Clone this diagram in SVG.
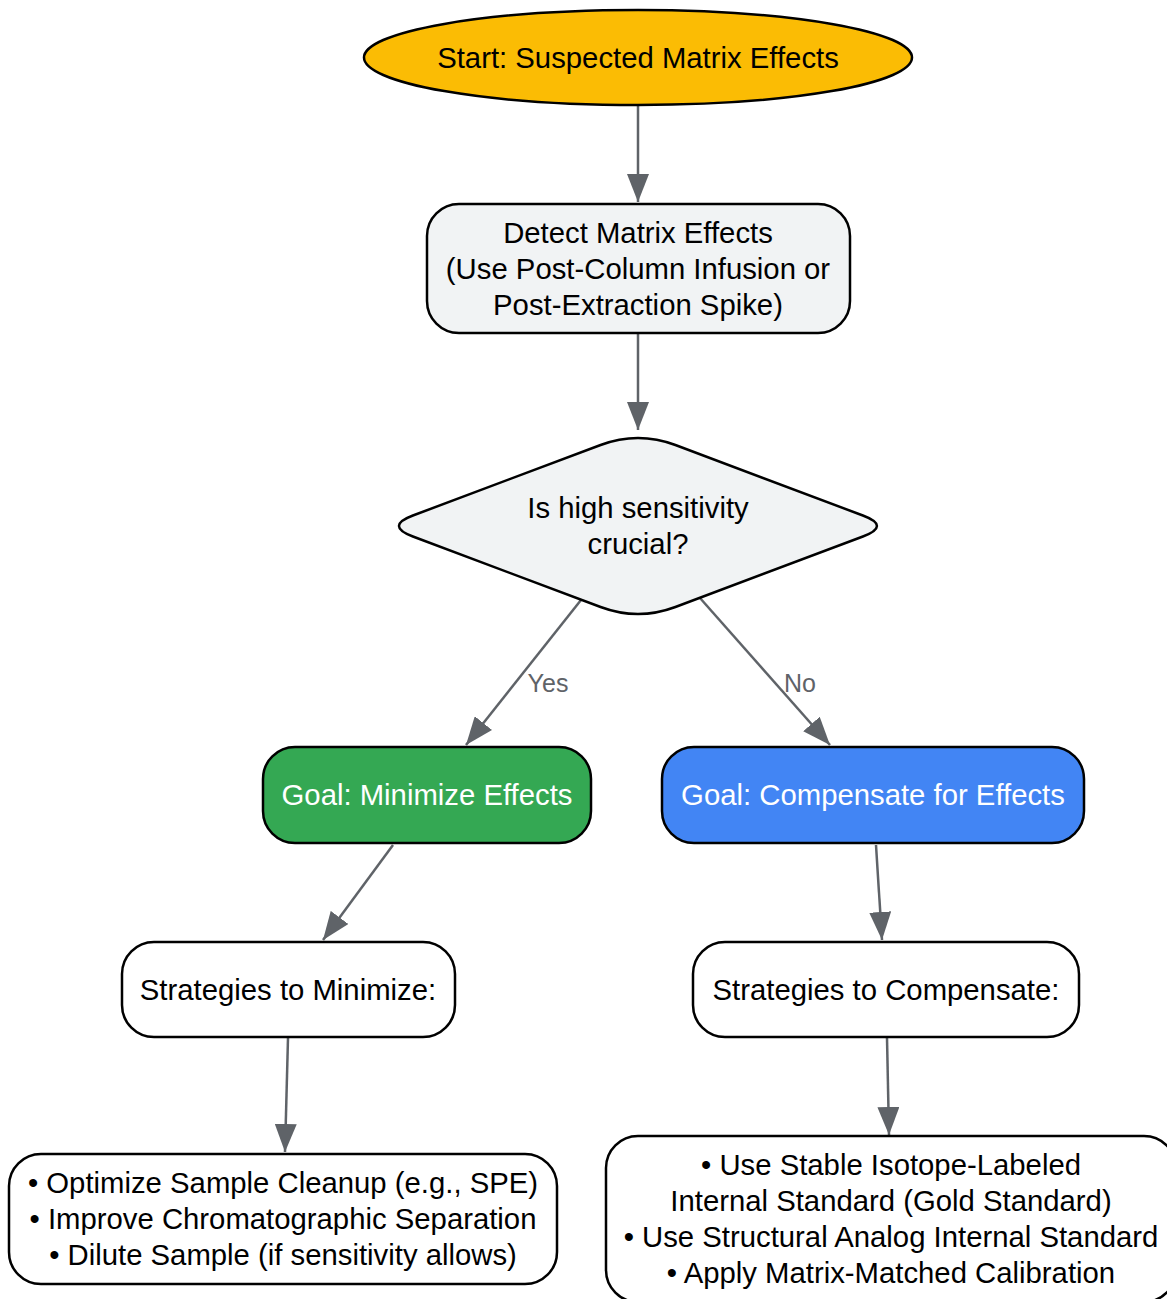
<svg xmlns="http://www.w3.org/2000/svg" width="1167" height="1299" viewBox="0 0 1167 1299">
<style>
text{font-family:"Liberation Sans",Arial,sans-serif;font-size:29.3px;fill:#000;text-anchor:middle}
.node{stroke:#000;stroke-width:2.5}
.w{fill:#ffffff}
.g{fill:#f1f3f4}
.lt{fill:#ffffff}
.edge{stroke:#5f6368;stroke-width:2.5;fill:none;marker-end:url(#ah)}
.lbl{fill:#5f6368;font-size:25px}
</style>
<defs>
<marker id="ah" markerUnits="userSpaceOnUse" markerWidth="28" markerHeight="22" refX="28" refY="11" orient="auto">
<path d="M0,0 L28,11 L0,22 Z" fill="#5f6368"/>
</marker>
</defs>
<rect width="1167" height="1299" fill="#ffffff"/>
<g id="connectors">
<line class="edge" x1="638" y1="105" x2="638" y2="202"/>
<line class="edge" x1="638" y1="334" x2="638" y2="430"/>
<line class="edge" x1="581" y1="600" x2="466" y2="745"/>
<line class="edge" x1="700" y1="598" x2="830" y2="745"/>
<line class="edge" x1="393" y1="845" x2="323" y2="940"/>
<line class="edge" x1="876" y1="845" x2="882" y2="940"/>
<line class="edge" x1="288" y1="1038" x2="285" y2="1152"/>
<line class="edge" x1="887" y1="1038" x2="889" y2="1135"/>
<text class="lbl" x="548" y="692">Yes</text>
<text class="lbl" x="800" y="692">No</text>
</g>
<g id="start">
<ellipse class="node" cx="638" cy="57.5" rx="274" ry="47.5" fill="#fbbc04"/>
<text x="638" y="68">Start: Suspected Matrix Effects</text>
</g>
<g id="detect">
<rect class="node g" x="427" y="204" width="423" height="129" rx="32"/>
<text x="638" y="243">Detect Matrix Effects</text>
<text x="638" y="279">(Use Post-Column Infusion or</text>
<text x="638" y="315">Post-Extraction Spike)</text>
</g>
<g id="decision">
<path class="node g" d="M600.6,445 Q638,431 675.4,445 L862.9,515.5 Q891,526 862.9,536.5 L675.4,607 Q638,621 600.6,607 L412.9,536.5 Q385,526 412.9,515.5 Z"/>
<text x="638" y="518">Is high sensitivity</text>
<text x="638" y="554">crucial?</text>
</g>
<g id="minimize">
<rect class="node" x="263" y="747" width="328" height="96" rx="32" fill="#34a853"/>
<text class="lt" x="427" y="805">Goal: Minimize Effects</text>
</g>
<g id="compensate">
<rect class="node" x="662" y="747" width="422" height="96" rx="32" fill="#4285f4"/>
<text class="lt" x="873" y="805">Goal: Compensate for Effects</text>
</g>
<g id="strat-min">
<rect class="node w" x="122" y="942" width="333" height="95" rx="32"/>
<text x="288" y="1000">Strategies to Minimize:</text>
</g>
<g id="strat-comp">
<rect class="node w" x="693" y="942" width="386" height="95" rx="32"/>
<text x="886" y="1000">Strategies to Compensate:</text>
</g>
<g id="list-min">
<rect class="node w" x="9" y="1154" width="548" height="130" rx="32"/>
<text x="283" y="1193">• Optimize Sample Cleanup (e.g., SPE)</text>
<text x="283" y="1229">• Improve Chromatographic Separation</text>
<text x="283" y="1265">• Dilute Sample (if sensitivity allows)</text>
</g>
<g id="list-comp">
<rect class="node w" x="606" y="1136" width="570" height="166" rx="32"/>
<text x="891" y="1175">• Use Stable Isotope-Labeled</text>
<text x="891" y="1211">Internal Standard (Gold Standard)</text>
<text x="891" y="1247">• Use Structural Analog Internal Standard</text>
<text x="891" y="1283">• Apply Matrix-Matched Calibration</text>
</g>
</svg>
